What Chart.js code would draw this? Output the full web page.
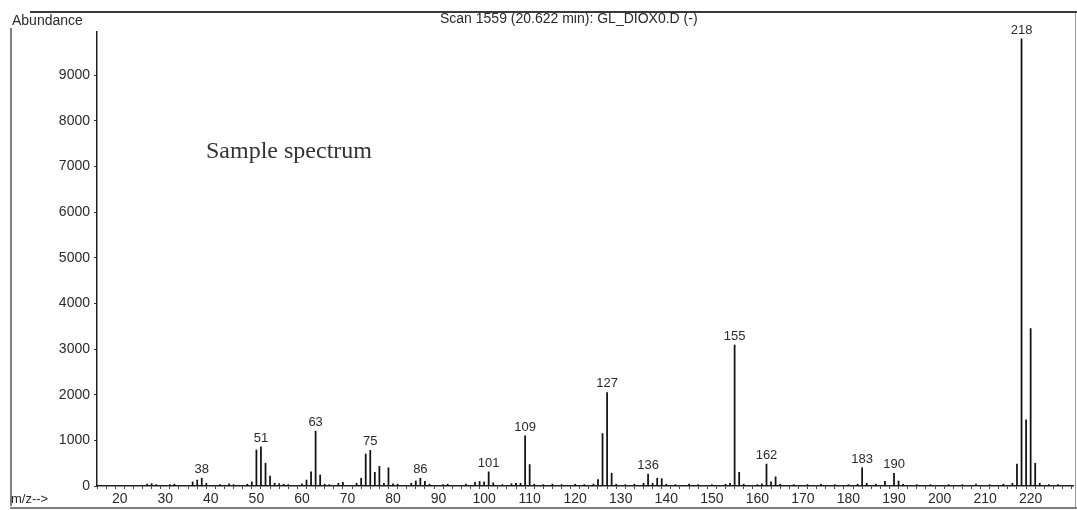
<!DOCTYPE html>
<html>
<head>
<meta charset="utf-8">
<script src="https://cdn.jsdelivr.net/npm/chart.js@4.4.1/dist/chart.umd.min.js"></script>
<style>
  html, body { margin: 0; padding: 0; background: #ffffff; }
  #wrap { width: 1077px; height: 510px; }
</style>
</head>
<body>
<div id="wrap"><canvas id="c" width="1077" height="510"></canvas></div>
<script>
// ---- data ----
const mz = [
  26, 27, 28, 31, 32, 36, 37, 38, 39, 42, 44, 45, 48, 49,
  50, 51, 52, 53, 54, 55, 56, 57, 60, 61, 62, 63, 64, 65, 66, 68, 69,
  72, 73, 74, 75, 76, 77, 78, 79, 80, 81, 84, 85, 86, 87, 88, 91, 92, 96,
  98, 99, 100, 101, 102, 104, 106, 107, 108, 109, 110, 111, 113, 115, 117,
  120, 122, 124, 125, 126, 127, 128, 129, 131, 133, 135, 136, 137, 138, 139, 140,
  142, 145, 147, 150, 153, 154, 155, 156, 157, 160, 161, 162, 163, 164, 165,
  168, 171, 174, 177, 180, 182, 183, 184, 186, 188, 190, 191, 192, 195, 198,
  202, 205, 208, 211, 214, 216, 217, 218, 219, 220, 221, 222, 224, 226
];
const abundance = [
  40, 50, 30, 30, 40, 90, 130, 170, 60, 30, 50, 30, 40, 90,
  790, 860, 500, 220, 60, 50, 40, 30, 50, 130, 310, 1200, 240, 40, 30, 60, 80,
  60, 170, 700, 780, 300, 430, 60, 400, 50, 40, 60, 110, 170, 100, 40, 30, 40, 40,
  80, 100, 90, 310, 70, 30, 50, 60, 60, 1100, 470, 40, 30, 40, 30,
  40, 30, 40, 140, 1150, 2050, 280, 40, 30, 40, 60, 260, 60, 170, 160, 40,
  30, 40, 30, 30, 40, 60, 3090, 300, 40, 30, 50, 480, 90, 200, 40,
  30, 30, 40, 30, 30, 40, 400, 60, 40, 100, 280, 110, 40, 30, 30,
  30, 30, 40, 30, 40, 60, 480, 9800, 1450, 3450, 500, 60, 30, 30
];
const peakLabels = [38, 51, 63, 75, 86, 101, 109, 127, 136, 155, 162, 183, 190, 218];
const xTickLabels = [20, 30, 40, 50, 60, 70, 80, 90, 100, 110, 120, 130, 140, 150, 160, 170, 180, 190, 200, 210, 220];
const yTickLabels = [0, 1000, 2000, 3000, 4000, 5000, 6000, 7000, 8000, 9000];

const titleText = "Scan 1559 (20.622 min): GL_DIOX0.D (-)";
const yAxisTitle = "Abundance";
const xAxisTitle = "m/z-->";
const noteText = "Sample spectrum";

// ---- build chart ----
const points = mz.map((m, i) => ({ x: m, y: abundance[i] }));
const xMinor = [];
for (let v = 16; v <= 228; v += 2) xMinor.push(v);

const SANS = '"Liberation Sans", Arial, sans-serif';
const INK = '#2a2a2a';

const decor = {
  id: 'decor',
  beforeDraw(chart) {
    const ctx = chart.ctx;
    ctx.save();
    ctx.fillStyle = '#ffffff';
    ctx.fillRect(0, 0, chart.width, chart.height);
    ctx.restore();
  },
  afterDatasetsDraw(chart) {
    const ctx = chart.ctx;
    const xs = chart.scales.x, ys = chart.scales.y;
    ctx.save();
    ctx.fillStyle = INK;
    ctx.font = '13px ' + SANS;
    ctx.textAlign = 'center';
    ctx.textBaseline = 'alphabetic';
    peakLabels.forEach(m => {
      const i = mz.indexOf(m);
      if (i < 0) return;
      const px = xs.getPixelForValue(m);
      const py = ys.getPixelForValue(abundance[i]);
      ctx.fillText(String(m), px, py - 5);
    });
    ctx.restore();
  },
  afterDraw(chart) {
    const ctx = chart.ctx;
    ctx.save();
    // frame
    ctx.strokeStyle = '#3a3a3a';
    ctx.lineWidth = 2;
    ctx.beginPath(); ctx.moveTo(30, 12); ctx.lineTo(1077, 12); ctx.stroke();
    ctx.lineWidth = 1.5;
    ctx.strokeStyle = '#555555';
    ctx.beginPath(); ctx.moveTo(11, 28); ctx.lineTo(11, 506); ctx.stroke();
    ctx.beginPath(); ctx.moveTo(10, 508); ctx.lineTo(1077, 508); ctx.stroke();
    ctx.strokeStyle = '#9a9a9a';
    ctx.lineWidth = 1;
    ctx.beginPath(); ctx.moveTo(1075.5, 13); ctx.lineTo(1075.5, 507); ctx.stroke();
    // texts
    ctx.fillStyle = INK;
    ctx.textBaseline = 'middle';
    ctx.textAlign = 'left';
    ctx.font = '14px ' + SANS;
    ctx.fillText(yAxisTitle, 12, 21);
    ctx.fillText(titleText, 440, 19);
    ctx.font = '13px ' + SANS;
    ctx.fillText(xAxisTitle, 11, 499);
    ctx.font = '24px "Liberation Serif", "Times New Roman", serif';
    ctx.textBaseline = 'alphabetic';
    ctx.fillStyle = '#333333';
    ctx.fillText(noteText, 206, 158);
    ctx.restore();
  }
};

new Chart(document.getElementById('c'), {
  type: 'bar',
  data: {
    datasets: [{
      data: points,
      backgroundColor: '#111111',
      borderWidth: 0,
      barThickness: 1.1
    }]
  },
  options: {
    responsive: false,
    devicePixelRatio: 1,
    animation: false,
    layout: { padding: { top: 32, right: 4, left: 0, bottom: 0 } },
    plugins: { legend: { display: false }, tooltip: { enabled: false }, title: { display: false } },
    scales: {
      x: {
        type: 'linear',
        min: 15.0,
        max: 229.3,
        offset: false,
        afterFit(scale) { scale.height = 24; },
        afterBuildTicks(scale) { scale.ticks = xMinor.map(v => ({ value: v })); },
        grid: { drawOnChartArea: false, drawTicks: true, tickLength: 3, color: '#444444', tickWidth: 1 },
        border: { display: true, color: '#222222', width: 1.5 },
        ticks: {
          autoSkip: false, maxRotation: 0, padding: 2,
          color: INK, font: { family: SANS, size: 14 },
          callback: (v) => xTickLabels.includes(v) ? String(v) : ''
        }
      },
      y: {
        type: 'linear',
        min: 0,
        max: 9950,
        afterFit(scale) { scale.width = 97; },
        afterBuildTicks(scale) { scale.ticks = yTickLabels.map(v => ({ value: v })); },
        grid: { drawOnChartArea: false, drawTicks: true, tickLength: 3, color: '#333333' },
        border: { display: true, color: '#222222', width: 1.5 },
        ticks: {
          padding: 4, color: INK, font: { family: SANS, size: 14 },
          callback: (v) => String(v)
        }
      }
    }
  },
  plugins: [decor]
});
</script>
</body>
</html>
